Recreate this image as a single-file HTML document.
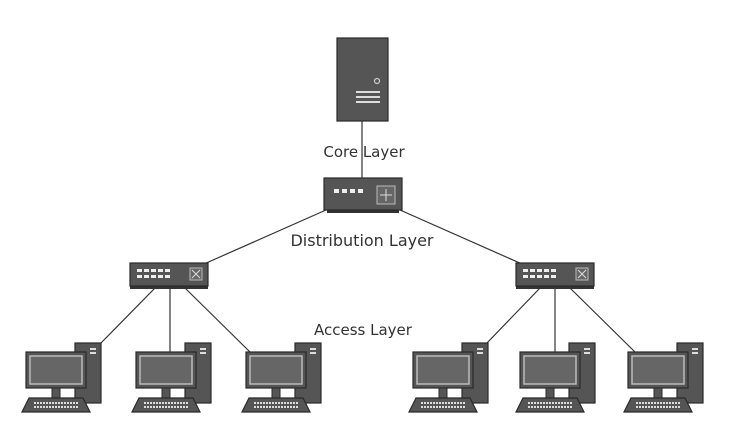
<!DOCTYPE html>
<html><head><meta charset="utf-8"><style>
html,body{margin:0;padding:0;background:#fff;}
svg{display:block;}
text{font-family:"DejaVu Sans","Liberation Sans",sans-serif;fill:#333;}
</style></head><body>
<svg width="737" height="434" viewBox="0 0 737 434" xmlns="http://www.w3.org/2000/svg">
<defs>
  <g id="pc">
    <rect x="49" y="-9" width="26" height="60" fill="#555" stroke="#2a2a2a" stroke-width="1.2"/>
    <rect x="64" y="-4" width="6" height="2" fill="#ddd"/>
    <rect x="64" y="0" width="6" height="2" fill="#ddd"/>
    <rect x="0" y="0" width="60" height="36" fill="#555" stroke="#2a2a2a" stroke-width="1.2"/>
    <rect x="4" y="4" width="52" height="28" fill="#666" stroke="#bbb" stroke-width="1.5"/>
    <rect x="26" y="36" width="8" height="10" fill="#555" stroke="#2a2a2a"/>
    <polygon points="3,46 57,46 64,60 -4,60" fill="#555" stroke="#2a2a2a" stroke-width="1.2"/>
    <line x1="8" y1="51" x2="52" y2="51" stroke="#ddd" stroke-width="2" stroke-dasharray="2,1"/>
    <line x1="8" y1="55" x2="52" y2="55" stroke="#ddd" stroke-width="2" stroke-dasharray="2,1"/>
  </g>
  <g id="sw">
    <rect x="0" y="22" width="78" height="4" fill="#333"/>
    <rect x="0" y="0" width="78" height="23" fill="#555" stroke="#2a2a2a" stroke-width="1.2"/>
    <g fill="#eee">
      <rect x="7" y="6" width="5" height="3"/><rect x="14" y="6" width="5" height="3"/><rect x="21" y="6" width="5" height="3"/><rect x="28" y="6" width="5" height="3"/><rect x="35" y="6" width="5" height="3"/>
      <rect x="7" y="12" width="5" height="3"/><rect x="14" y="12" width="5" height="3"/><rect x="21" y="12" width="5" height="3"/><rect x="28" y="12" width="5" height="3"/><rect x="35" y="12" width="5" height="3"/>
    </g>
    <rect x="60" y="5" width="12" height="12" fill="#666" stroke="#bbb"/>
    <path d="M62,7 L70,15 M70,7 L62,15" stroke="#ddd" stroke-width="1"/>
  </g>
</defs>

<g stroke="#333" stroke-width="1.2" fill="none">
  <line x1="362" y1="120" x2="362" y2="179"/>
  <line x1="326" y1="210" x2="204" y2="264"/>
  <line x1="400" y1="210" x2="522" y2="264"/>
  <line x1="155" y1="288" x2="100" y2="344"/>
  <line x1="170" y1="288" x2="170" y2="352"/>
  <line x1="185" y1="288" x2="250" y2="352"/>
  <line x1="540" y1="288" x2="486" y2="344"/>
  <line x1="555" y1="288" x2="555" y2="352"/>
  <line x1="570" y1="288" x2="635" y2="352"/>
</g>

<rect x="337" y="38" width="51" height="83" fill="#555" stroke="#2a2a2a" stroke-width="1.2"/>
<circle cx="377" cy="81" r="2.5" fill="none" stroke="#ccc" stroke-width="1.2"/>
<rect x="356" y="91" width="24" height="2" fill="#ddd"/>
<rect x="356" y="96" width="24" height="2" fill="#ddd"/>
<rect x="356" y="101" width="24" height="2" fill="#ddd"/>

<rect x="327" y="208" width="72" height="5" fill="#333"/>
<rect x="324" y="178" width="78" height="32" fill="#555" stroke="#2a2a2a" stroke-width="1.2"/>
<g fill="#eee">
  <rect x="334" y="189" width="5" height="4"/><rect x="342" y="189" width="5" height="4"/><rect x="350" y="189" width="5" height="4"/><rect x="358" y="189" width="5" height="4"/>
</g>
<rect x="377" y="186" width="18" height="18" fill="#666" stroke="#bbb"/>
<path d="M386,189 V201 M380,195 H392" stroke="#ddd" stroke-width="1"/>

<use href="#sw" x="130" y="263"/>
<use href="#sw" x="516" y="263"/>

<use href="#pc" x="26" y="352"/>
<use href="#pc" x="136" y="352"/>
<use href="#pc" x="246" y="352"/>
<use href="#pc" x="413" y="352"/>
<use href="#pc" x="520" y="352"/>
<use href="#pc" x="628" y="352"/>

<text x="364" y="157" font-size="15" text-anchor="middle">Core Layer</text>
<text x="362" y="246" font-size="16" text-anchor="middle">Distribution Layer</text>
<text x="363" y="335" font-size="15" text-anchor="middle">Access Layer</text>
</svg>
</body></html>
